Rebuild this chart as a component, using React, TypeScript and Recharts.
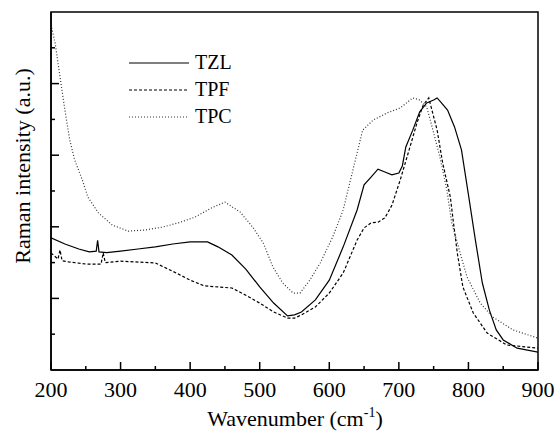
import React from 'react';
import { LineChart, Line, XAxis, YAxis, ReferenceArea, Label } from 'recharts';

// wavenumber (cm-1) / intensity (a.u.)
const tzl = [
  [200, 3.69], [220, 3.52], [240, 3.38], [255, 3.3], [265, 3.32], [267, 3.62], [269, 3.3],
  [280, 3.28], [300, 3.32], [325, 3.38], [350, 3.44], [375, 3.52], [400, 3.58], [425, 3.58],
  [440, 3.44], [460, 3.21], [480, 2.82], [500, 2.32], [520, 1.87], [540, 1.51], [550, 1.54],
  [560, 1.62], [580, 1.96], [600, 2.51], [620, 3.44], [640, 4.47], [650, 5.17], [660, 5.39],
  [670, 5.61], [680, 5.53], [690, 5.45], [700, 5.5], [705, 5.7], [710, 6.23], [720, 6.7],
  [730, 7.21], [740, 7.46], [750, 7.54], [755, 7.6], [760, 7.49], [770, 7.26], [780, 6.79],
  [790, 6.15], [800, 4.9], [810, 3.63], [820, 2.43], [830, 1.68], [840, 1.12], [850, 0.84],
  [870, 0.61], [900, 0.5],
].map(([x, y]) => ({ x, y }));

const tpf = [
  [200, 3.27], [210, 3.1], [213, 3.35], [216, 3.05], [225, 3.02], [250, 2.96], [272, 2.96],
  [275, 3.27], [278, 3.0], [300, 3.04], [350, 2.99], [380, 2.71], [400, 2.51], [420, 2.35],
  [440, 2.32], [460, 2.29], [480, 2.09], [500, 1.87], [520, 1.62], [540, 1.45], [550, 1.45],
  [560, 1.54], [580, 1.76], [600, 2.15], [620, 2.71], [640, 3.63], [650, 3.97], [660, 4.11],
  [670, 4.13], [680, 4.25], [690, 4.6], [702, 5.31], [716, 6.23], [726, 6.9], [735, 7.4],
  [743, 7.6], [755, 6.7], [763, 5.78], [774, 4.83], [778, 4.19], [784, 3.27], [792, 2.32],
  [807, 1.59], [827, 1.03], [855, 0.7], [900, 0.61],
].map(([x, y]) => ({ x, y }));

const tpc = [
  [200, 9.64], [206, 9.13], [213, 8.18], [220, 7.26], [227, 6.42], [234, 5.87], [245, 5.31],
  [253, 4.83], [268, 4.39], [288, 4.05], [311, 3.88], [335, 3.91], [360, 3.99], [383, 4.11],
  [407, 4.27], [431, 4.53], [450, 4.69], [472, 4.41], [490, 3.99], [505, 3.55], [519, 2.88],
  [533, 2.43], [548, 2.15], [558, 2.15], [572, 2.51], [587, 2.99], [605, 3.72], [620, 4.47],
  [634, 5.59], [648, 6.7], [663, 6.98], [683, 7.18], [702, 7.32], [720, 7.6], [730, 7.54],
  [740, 7.35], [749, 6.7], [759, 5.95], [769, 5.03], [776, 4.11], [791, 3.07], [798, 2.6],
  [817, 1.87], [835, 1.48], [864, 1.12], [900, 0.89],
].map(([x, y]) => ({ x, y }));

const xTicks = [200, 250, 300, 350, 400, 450, 500, 550, 600, 650, 700, 750, 800, 850, 900];
const yTicks = [1, 2, 3, 4, 5, 6, 7, 8, 9];

const series = [
  { name: 'TZL', data: tzl, dash: undefined, color: '#000' },
  { name: 'TPF', data: tpf, dash: '3 2', color: '#000' },
  { name: 'TPC', data: tpc, dash: '1 2', color: '#333' },
];

const FONT = '"Liberation Serif", "Times New Roman", Times, "DejaVu Serif", serif';

const XTick = (props: any) => {
  const { x, y, payload } = props;
  const major = payload.value % 100 === 0;
  return (
    <g>
      <line x1={x} y1={y} x2={x} y2={y - (major ? 8 : 4)} stroke="#000" strokeWidth={1.5} />
      {major && (
        <text x={x} y={y + 27} textAnchor="middle" fontSize={22} fontFamily={FONT} fill="#000">
          {payload.value}
        </text>
      )}
    </g>
  );
};

const YTick = (props: any) => {
  const { x, y, payload } = props;
  const major = payload.value % 2 === 0;
  return <line x1={x} y1={y} x2={x + (major ? 8 : 4)} y2={y} stroke="#000" strokeWidth={1.5} />;
};

const LegendBox = () => (
  <div style={{ position: 'absolute', left: 129, top: 49, fontFamily: FONT, fontSize: 20, color: '#000' }}>
    {series.map((s) => (
      <div key={s.name} style={{ display: 'flex', alignItems: 'center', height: 27 }}>
        <svg width={62} height={6} style={{ marginRight: 4 }}>
          <line x1={0} y1={3} x2={60} y2={3} stroke={s.color} strokeWidth={1.2} strokeDasharray={s.dash} />
        </svg>
        <span>{s.name}</span>
      </div>
    ))}
  </div>
);

export default function App() {
  return (
    <div style={{ position: 'absolute', left: 0, top: 0, width: 557, height: 431, background: '#fff' }}>
      <LineChart width={557} height={431} margin={{ top: 12, right: 19, left: 0, bottom: 0 }}>
        <XAxis
          type="number"
          dataKey="x"
          domain={[200, 900]}
          ticks={xTicks}
          interval={0}
          allowDataOverflow
          height={61}
          tickSize={0}
          tickMargin={0}
          tick={<XTick />}
          axisLine={{ stroke: '#000', strokeWidth: 1.5 }}
        >
          <Label
            content={() => (
              <text x={295} y={426} textAnchor="middle" fontSize={22} fontFamily={FONT} fill="#000">
                Wavenumber (cm
                <tspan fontSize={14} dy={-9}>-1</tspan>
                <tspan dy={9}>)</tspan>
              </text>
            )}
          />
        </XAxis>
        <YAxis
          type="number"
          domain={[0, 10]}
          ticks={yTicks}
          interval={0}
          allowDataOverflow
          width={51}
          tickSize={0}
          tickMargin={0}
          tick={<YTick />}
          axisLine={{ stroke: '#000', strokeWidth: 1.5 }}
        >
          <Label
            content={() => (
              <text
                transform="translate(30,166) rotate(-90)"
                textAnchor="middle"
                fontSize={22}
                fontFamily={FONT}
                fill="#000"
              >
                Raman intensity (a.u.)
              </text>
            )}
          />
        </YAxis>
        <ReferenceArea x1={200} x2={900} y1={0} y2={10} fill="none" stroke="#000" strokeWidth={1.5} ifOverflow="visible" />
        {series.map((s) => (
          <Line
            key={s.name}
            data={s.data}
            dataKey="y"
            name={s.name}
            type="linear"
            stroke={s.color}
            strokeWidth={1.2}
            strokeDasharray={s.dash}
            dot={false}
            isAnimationActive={false}
          />
        ))}
      </LineChart>
      <LegendBox />
    </div>
  );
}
